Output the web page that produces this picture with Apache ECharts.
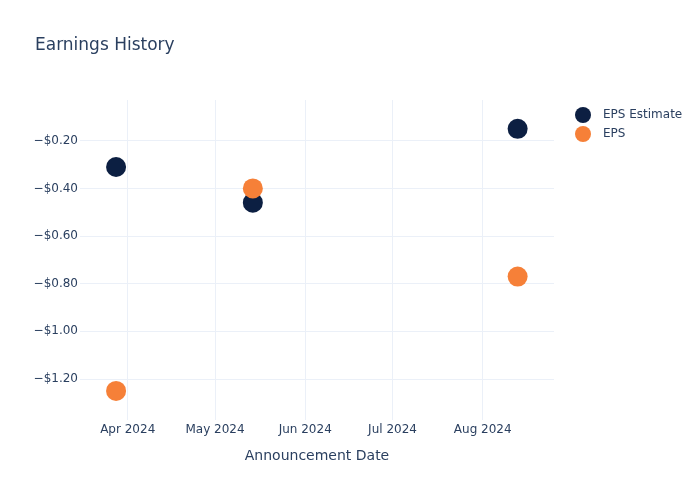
<!DOCTYPE html>
<html>
<head>
<meta charset="utf-8">
<script src="https://cdn.jsdelivr.net/npm/echarts@6/dist/echarts.min.js"></script>
<style>html,body{margin:0;padding:0;background:#fff;}#chart{width:700px;height:500px;}</style>
</head>
<body>
<div id="chart"></div>
<script>
const dates = ['2024-03-28', '2024-05-14', '2024-08-13'];
const epsEstimate = [-0.31, -0.46, -0.15];
const eps = [-1.25, -0.40, -0.77];
const xTicks = ['2024-04-01', '2024-05-01', '2024-06-01', '2024-07-01', '2024-08-01'];
const yTicks = [-1.2, -1.0, -0.8, -0.6, -0.4, -0.2];
const monthNames = ['Jan','Feb','Mar','Apr','May','Jun','Jul','Aug','Sep','Oct','Nov','Dec'];

const toTime = s => echarts.number.parseDate(s).getTime();
const FONT = 'DejaVu Sans';
const TXT = '#2a3f5f';
const GRID = '#ebf0f8';

const chart = echarts.init(document.getElementById('chart'), null, {renderer: 'canvas'});
chart.setOption({
  backgroundColor: '#fff',
  animation: false,
  textStyle: {fontFamily: FONT, color: TXT},
  title: {
    text: 'Earnings History',
    left: 35, top: 37, padding: 0,
    textStyle: {fontFamily: FONT, fontSize: 17, fontWeight: 'normal', color: TXT}
  },
  legend: {
    orient: 'vertical',
    left: 570, top: 102,
    itemWidth: 16, itemHeight: 16, itemGap: 3,
    icon: 'circle',
    textStyle: {fontFamily: FONT, fontSize: 12, color: TXT, padding: [0, 0, 0, 7]},
    data: ['EPS Estimate', 'EPS']
  },
  grid: {left: 80, right: 146, top: 100, bottom: 80, containLabel: false},
  xAxis: {
    type: 'value',
    min: toTime('2024-03-15 14:24'),
    max: toTime('2024-08-25 12:00'),
    name: 'Announcement Date',
    nameLocation: 'middle',
    nameGap: 29,
    nameTextStyle: {fontFamily: FONT, fontSize: 14, color: TXT},
    axisLine: {show: false},
    axisTick: {show: false, customValues: xTicks.map(toTime)},
    axisLabel: {
      customValues: xTicks.map(toTime),
      fontFamily: FONT, fontSize: 12, color: TXT, margin: 4,
      formatter: v => { const d = new Date(v); return monthNames[d.getMonth()] + ' ' + d.getFullYear(); }
    },
    splitLine: {show: true, lineStyle: {color: GRID, width: 1}}
  },
  yAxis: {
    type: 'value',
    min: -1.372,
    max: -0.029,
    axisLine: {show: false},
    axisTick: {show: false, customValues: yTicks},
    axisLabel: {
      customValues: yTicks,
      fontFamily: FONT, fontSize: 12, color: TXT, margin: 2,
      formatter: v => (v < 0 ? '\u2212' : '') + '$' + Math.abs(v).toFixed(2)
    },
    splitLine: {show: true, lineStyle: {color: GRID, width: 1}}
  },
  series: [
    {
      name: 'EPS Estimate',
      type: 'scatter',
      symbolSize: 20,
      itemStyle: {color: '#0c1f42', opacity: 1},
      data: dates.map((d, i) => [toTime(d), epsEstimate[i]])
    },
    {
      name: 'EPS',
      type: 'scatter',
      symbolSize: 20,
      itemStyle: {color: '#f68038', opacity: 1},
      data: dates.map((d, i) => [toTime(d), eps[i]])
    }
  ]
});
</script>
</body>
</html>
